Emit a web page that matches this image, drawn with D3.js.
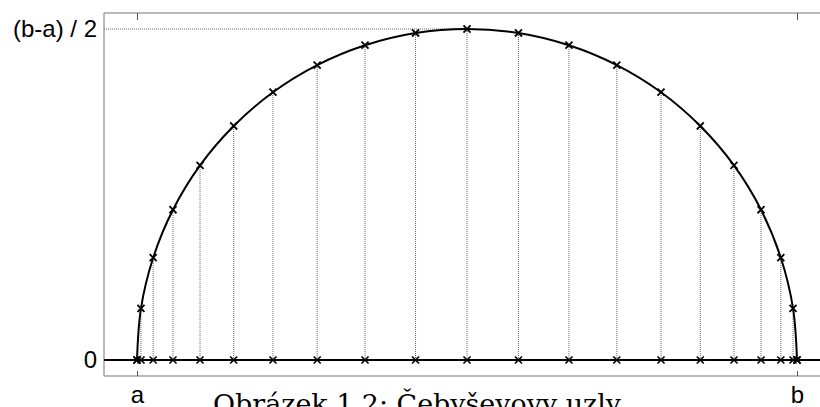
<!DOCTYPE html>
<html>
<head>
<meta charset="utf-8">
<script src="https://cdn.jsdelivr.net/npm/d3@7"></script>
<style>
  body { margin: 0; background: #fff; }
  svg { display: block; }
</style>
</head>
<body>
<svg></svg>
<script>
// Chebyshev nodes (a = -1, b = 1, top = (b-a)/2 = 1)
const nodeX = [-1, -0.988, -0.951, -0.891, -0.809, -0.707, -0.588, -0.454, -0.309, -0.156,
               0, 0.156, 0.309, 0.454, 0.588, 0.707, 0.809, 0.891, 0.951, 0.988, 1];
const nodeY = [0, 0.156, 0.309, 0.454, 0.588, 0.707, 0.809, 0.891, 0.951, 0.988,
               1, 0.988, 0.951, 0.891, 0.809, 0.707, 0.588, 0.454, 0.309, 0.156, 0];
const xTickValues = [-1, 1];
const xTickLabels = ["a", "b"];
const yTickValues = [0, 1];
const yTickLabels = ["0", "(b-a) / 2"];
const caption = "Obrázek 1.2: Čebyševovy uzly";

window.onload = function() {
    const width = 820, height = 407;
    const boxLeft = 104, boxTop = 13, boxBottom = 376;

    const svg = d3.select("svg")
        .attr("width", width)
        .attr("height", height);

    const x = d3.scaleLinear().domain([-1, 1]).range([137, 797]);
    const y = d3.scaleLinear().domain([0, 1]).range([360, 29]);

    const nodes = nodeX.map(function(v, i) { return { x: v, y: nodeY[i] }; });

    // box (top, left, bottom) - no right edge in view
    const boxColor = "#a3a3a3";
    svg.append("line").attr("x1", boxLeft).attr("x2", width).attr("y1", boxTop).attr("y2", boxTop)
        .attr("stroke", boxColor).attr("stroke-width", 1.5);
    svg.append("line").attr("x1", boxLeft).attr("x2", boxLeft).attr("y1", boxTop).attr("y2", boxBottom)
        .attr("stroke", boxColor).attr("stroke-width", 1.5);
    svg.append("line").attr("x1", boxLeft).attr("x2", width).attr("y1", boxBottom).attr("y2", boxBottom)
        .attr("stroke", boxColor).attr("stroke-width", 1.5);

    // x axes, ticks pointing inward
    const xBottom = svg.append("g")
        .attr("transform", "translate(0," + boxBottom + ")")
        .call(d3.axisBottom(x).tickValues(xTickValues)
            .tickSizeInner(-5).tickSizeOuter(0).tickPadding(10)
            .tickFormat(function(d, i) { return xTickLabels[i]; }));
    xBottom.select(".domain").remove();
    xBottom.selectAll("line").attr("stroke", "#555");
    xBottom.selectAll("text")
        .attr("font-family", "Liberation Sans, Arial, sans-serif")
        .attr("font-size", 24)
        .attr("fill", "#000");

    const xTop = svg.append("g")
        .attr("transform", "translate(0," + boxTop + ")")
        .call(d3.axisTop(x).tickValues(xTickValues)
            .tickSizeInner(-7).tickSizeOuter(0).tickFormat(""));
    xTop.select(".domain").remove();
    xTop.selectAll("line").attr("stroke", "#555");

    // y axis labels
    const yAxis = svg.append("g")
        .attr("transform", "translate(" + boxLeft + ",0)")
        .call(d3.axisLeft(y).tickValues(yTickValues)
            .tickSize(0).tickPadding(7)
            .tickFormat(function(d, i) { return yTickLabels[i]; }));
    yAxis.select(".domain").remove();
    yAxis.selectAll("text")
        .attr("font-family", "Liberation Sans, Arial, sans-serif")
        .attr("font-size", 24)
        .attr("fill", "#000");

    // horizontal dotted line at the top value
    svg.append("line")
        .attr("x1", boxLeft).attr("x2", x(0))
        .attr("y1", y(1)).attr("y2", y(1))
        .attr("stroke", "#666").attr("stroke-width", 1)
        .attr("stroke-dasharray", "1,1");

    // vertical dotted lines from nodes up to the circle
    svg.selectAll(".drop")
        .data(nodes)
        .join("line")
        .attr("class", "drop")
        .attr("x1", function(d) { return x(d.x); })
        .attr("x2", function(d) { return x(d.x); })
        .attr("y1", y(0))
        .attr("y2", function(d) { return y(d.y); })
        .attr("stroke", "#666").attr("stroke-width", 1)
        .attr("stroke-dasharray", "1,1");

    // baseline
    svg.append("line")
        .attr("x1", boxLeft).attr("x2", width)
        .attr("y1", y(0)).attr("y2", y(0))
        .attr("stroke", "#000").attr("stroke-width", 2);

    // semicircle through the nodes
    const line = d3.line()
        .x(function(d) { return x(d.x); })
        .y(function(d) { return y(d.y); })
        .curve(d3.curveCatmullRom.alpha(0.5));
    svg.append("path")
        .datum(nodes)
        .attr("d", line)
        .attr("fill", "none")
        .attr("stroke", "#000")
        .attr("stroke-width", 2);

    // cross markers
    const cross = d3.symbol().type(d3.symbolX).size(34);
    svg.selectAll(".mark-top")
        .data(nodes)
        .join("path")
        .attr("class", "mark-top")
        .attr("d", cross)
        .attr("transform", function(d) { return "translate(" + x(d.x) + "," + y(d.y) + ")"; })
        .attr("fill", "none").attr("stroke", "#000").attr("stroke-width", 1.8);
    svg.selectAll(".mark-base")
        .data(nodes)
        .join("path")
        .attr("class", "mark-base")
        .attr("d", cross)
        .attr("transform", function(d) { return "translate(" + x(d.x) + "," + y(0) + ")"; })
        .attr("fill", "none").attr("stroke", "#000").attr("stroke-width", 1.6);

    // caption, clipped by the bottom edge as in the source
    svg.append("text")
        .attr("x", 213)
        .attr("y", 413)
        .attr("font-family", "DejaVu Serif, Liberation Serif, serif")
        .attr("font-size", 26)
        .attr("textLength", 408)
        .attr("lengthAdjust", "spacingAndGlyphs")
        .attr("fill", "#000")
        .text(caption);
};
</script>
</body>
</html>
